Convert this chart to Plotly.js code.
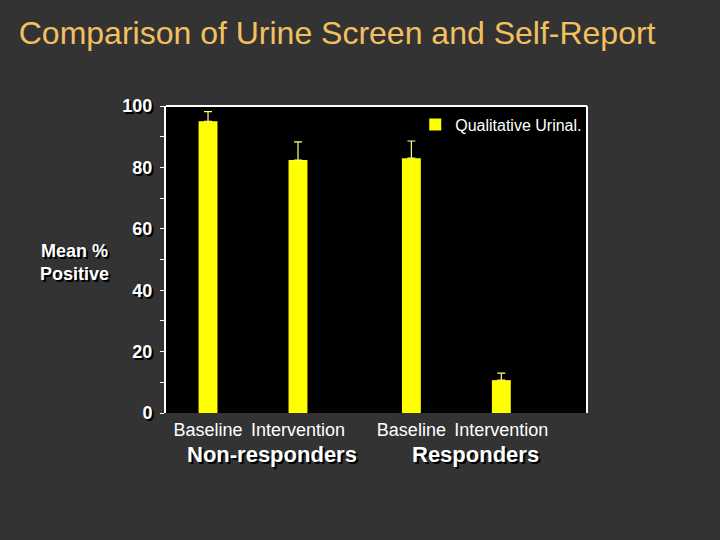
<!DOCTYPE html>
<html>
<head>
<meta charset="utf-8">
<script src="https://cdn.plot.ly/plotly-3.0.1.min.js"></script>
<style>html,body{margin:0;padding:0;background:#333333;}</style>
</head>
<body>
<div id="chart" style="width:720px;height:540px;"></div>
<script>
// Data
const conditions = ["Baseline", "Intervention", "Baseline", "Intervention"];
const groups = ["Non-responders", "Non-responders", "Responders", "Responders"];
const groupNames = ["Non-responders", "Responders"];
const meanPositive = [95.0, 82.4, 83.0, 10.7];
const errorUpper = [3.2, 5.9, 5.6, 2.3];
const seriesName = "Qualitative Urinal.";
const yTicks = [0, 20, 40, 60, 80, 100];

// layout helpers: position of each bar = index within group + gap per group
const groupGap = 0.26;
const xPos = conditions.map((c, i) => i + groupGap * groupNames.indexOf(groups[i]));
const groupCenters = groupNames.map(g => {
  const xs = xPos.filter((x, i) => groups[i] === g);
  return xs.reduce((a, b) => a + b, 0) / xs.length;
});

const shadow = "2px 2px 0px #000000";
const FONT = "Arial, Liberation Sans, sans-serif";

const trace = {
  type: "bar",
  x: xPos,
  y: meanPositive,
  name: seriesName,
  width: 0.21,
  marker: {color: "#ffff00", line: {width: 0}},
  error_y: {
    type: "data",
    symmetric: false,
    array: errorUpper,
    arrayminus: errorUpper.map(() => 0),
    color: "#ffff88",
    thickness: 1.2,
    width: 4
  },
  showlegend: true
};

const annotations = groupNames.map((g, i) => ({
  x: groupCenters[i], y: 0, xref: "x", yref: "paper",
  text: "<b>" + g + "</b>", showarrow: false,
  yanchor: "top", yshift: -27, xshift: 19,
  font: {family: FONT, size: 22, color: "#ffffff", shadow: shadow}
}));
annotations.push({
  x: -0.218, y: 0.49, xref: "paper", yref: "paper",
  text: "<b>Mean %<br>Positive</b>", showarrow: false,
  xanchor: "center", yanchor: "middle", align: "center",
  font: {family: FONT, size: 18, color: "#ffffff", shadow: shadow}
});

const layout = {
  width: 720, height: 540,
  paper_bgcolor: "#333333",
  plot_bgcolor: "#000000",
  margin: {l: 166, r: 133, t: 106, b: 127},
  title: {
    text: "Comparison of Urine Screen and Self-Report",
    x: 0.026, xanchor: "left", y: 0.94, yanchor: "middle",
    font: {family: FONT, size: 32, color: "#f3c060"}
  },
  xaxis: {
    range: [-0.467, 3.0 + groupGap + 0.952],
    tickmode: "array",
    tickvals: xPos,
    ticktext: conditions,
    ticks: "outside", ticklen: 0, tickcolor: "rgba(0,0,0,0)",
    showgrid: false, zeroline: false, showline: false,
    tickfont: {family: FONT, size: 18, color: "#ffffff"},
    fixedrange: true
  },
  yaxis: {
    range: [0, 100],
    tickmode: "array",
    tickvals: yTicks,
    ticks: "outside", ticklen: 4, tickwidth: 1, tickcolor: "#ffffff",
    minor: {dtick: 10, ticks: "outside", ticklen: 4, tickcolor: "#ffffff", showgrid: false},
    showgrid: false, zeroline: false,
    showline: true, linecolor: "#ffffff", linewidth: 2,
    ticklabelstandoff: 4,
    tickfont: {family: FONT, size: 18, color: "#ffffff", weight: "bold", shadow: shadow},
    fixedrange: true
  },
  legend: {
    x: 0.592, y: 0.995, xanchor: "left", yanchor: "top",
    bgcolor: "rgba(0,0,0,0)",
    font: {family: FONT, size: 16, color: "#ffffff"},
    itemwidth: 30
  },
  shapes: [
    {type: "line", xref: "paper", yref: "paper", x0: 0, x1: 1, y0: 1, y1: 1, line: {color: "#ffffff", width: 2}},
    {type: "line", xref: "paper", yref: "paper", x0: 1, x1: 1, y0: 0, y1: 1, line: {color: "#ffffff", width: 2}}
  ],
  annotations: annotations
};

Plotly.newPlot("chart", [trace], layout, {displayModeBar: false, staticPlot: true});
</script>
</body>
</html>
